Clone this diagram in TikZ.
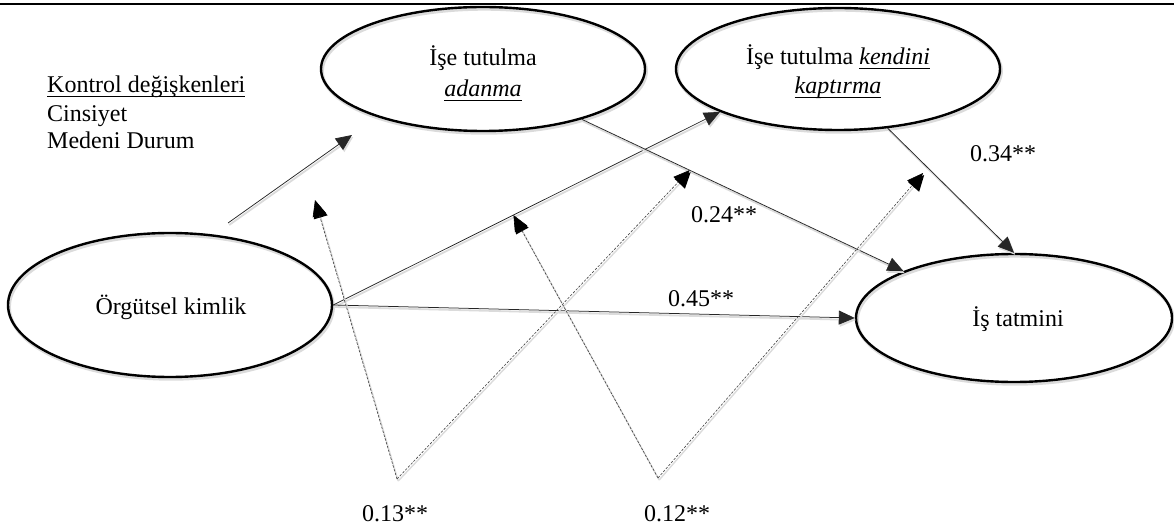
\documentclass[tikz,border=0pt]{standalone}
\usepackage{fontspec}
\setmainfont{Liberation Serif}
\usetikzlibrary{shapes.geometric,arrows.meta,calc}
% underline set at a fixed depth below the baseline
\newcommand\ulword[1]{\setbox0\hbox{#1}\rlap{\rule[-4.5pt]{\wd0}{1.4pt}}\box0}
\begin{document}
\begin{tikzpicture}[x=1pt,y=-1pt,
  soft/.style={preaction={draw=black!14, line width=#1,
               transform canvas={shift={(1.2pt,-2pt)}}}},
  ell/.style={ellipse, draw, line width=2.4pt, inner sep=0pt, soft=3.4pt},
  txt/.style={font=\fontsize{24}{28}\selectfont, inner sep=0pt, anchor=base},
  tip/.style={-{Triangle[length=16pt,width=14pt]}},
  arr/.style={line width=0.75pt, draw=black!85, tip, soft=1.8pt},
  modarr/.style={line width=0.6pt, draw=black!75, dash pattern=on 2.5pt off 1.5pt,
                 -{Triangle[length=16pt,width=14pt,fill=black,color=black]}, soft=1.4pt}]
\useasboundingbox (0,0) rectangle (1174,526);

% rule across the top
\coordinate (tl) at (0,4);
\coordinate (tr) at (1174,4);
\draw[line width=2.8pt] (tl) -- (tr);

% latent variables
\node[ell, minimum width=324pt, minimum height=144pt] (org) at (170,305) {};
\node[ell, minimum width=324pt, minimum height=124pt] (ded) at (483,69) {};
\node[ell, minimum width=324pt, minimum height=122pt] (kap) at (838,69) {};
\node[ell, minimum width=316pt, minimum height=128pt] (tat) at (1014,318) {};

\node[txt] (orgt) at (171,315) {Örgütsel kimlik};
\node[txt] (dedt1) at (483,66) {İşe tutulma};
\node[txt] (dedt2) at (483,97) {\ulword{\itshape adanma}};
\node[txt] (kapt1) at (838,65) {İşe tutulma \ulword{\itshape kendini}};
\node[txt] (kapt2) at (838,94) {\ulword{\itshape kaptırma}};
\node[txt] (tatt) at (1018,326) {İş tatmini};

% control variables
\node[txt, anchor=base west] (k1) at (47,93) {\ulword{Kontrol değişkenleri}};
\node[txt, anchor=base west] (k2) at (47,122) {Cinsiyet};
\node[txt, anchor=base west] (k3) at (47,149) {Medeni Durum};

% direct paths
\coordinate (cs) at (228,223);
\coordinate (ce) at (352,135);
\draw[arr] (cs) -- (ce);
\draw[arr] (org.east) -- (kap.200.4);
\draw[arr] (ded.333.9) -- (tat.157.5);
\draw[arr] (kap.310.4) -- (tat.north);
\draw[arr] (org.east) -- (tat.west);

% moderation paths
\coordinate (apA) at (397,479);
\coordinate (apB) at (658,478);
\coordinate (mA1) at (315,200);
\coordinate (mA2) at ($(ded.333.9)!0.335!(tat.157.5)$);
\coordinate (mB1) at ($(org.east)!0.466!(kap.200.4)$);
\coordinate (mB2) at (923,173);
\draw[modarr] (apA) -- (mA1);
\draw[modarr] (apA) -- (mA2);
\draw[modarr] (apB) -- (mB1);
\draw[modarr] (apB) -- (mB2);

% coefficients
\node[txt] (l24) at (724,223) {0.24**};
\node[txt] (l34) at (1003,162) {0.34**};
\node[txt] (l45) at (701,306) {0.45**};
\node[txt] (l13) at (395,521) {0.13**};
\node[txt] (l12) at (677,521) {0.12**};
\end{tikzpicture}
\end{document}
